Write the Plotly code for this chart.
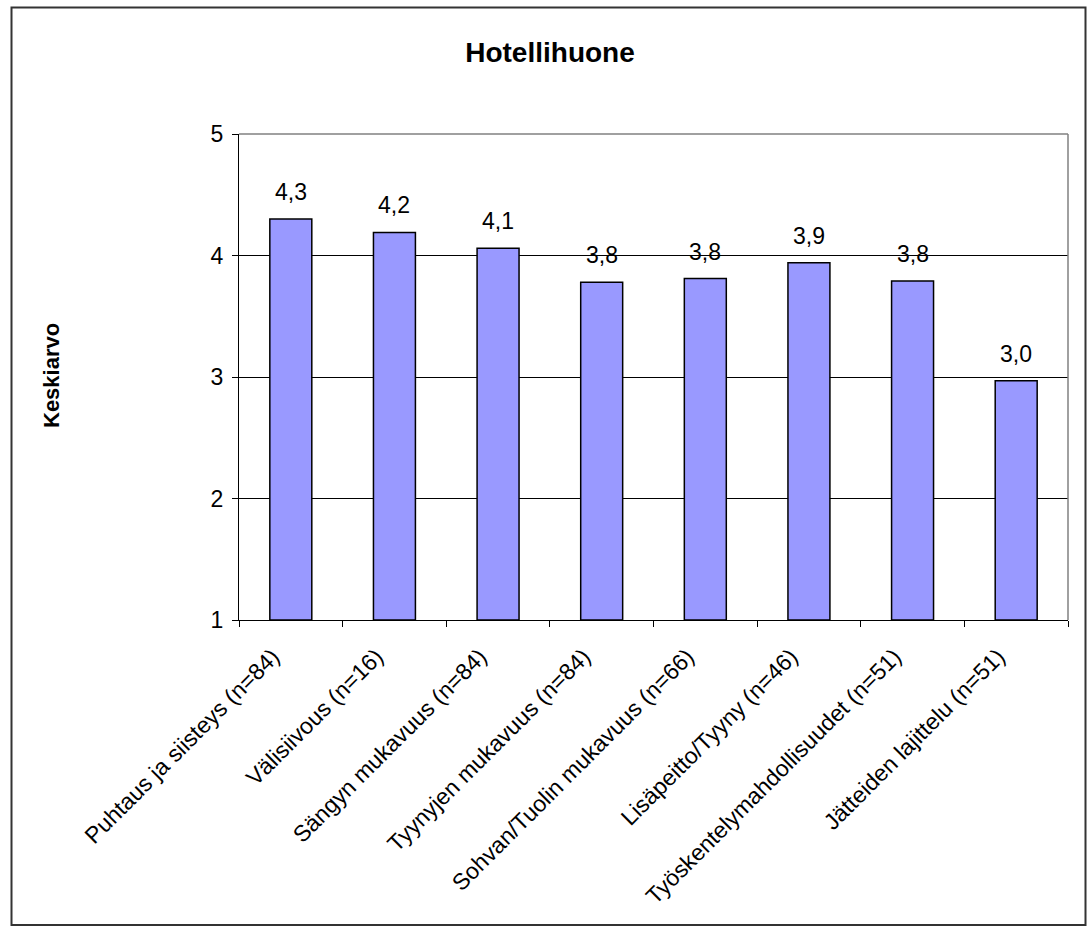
import plotly.graph_objects as go

categories = [
    "Puhtaus ja siisteys (n=84)",
    "Välisiivous (n=16)",
    "Sängyn mukavuus (n=84)",
    "Tyynyjen mukavuus (n=84)",
    "Sohvan/Tuolin mukavuus (n=66)",
    "Lisäpeitto/Tyyny (n=46)",
    "Työskentelymahdollisuudet (n=51)",
    "Jätteiden lajittelu (n=51)",
]
values = [4.30, 4.19, 4.06, 3.78, 3.81, 3.94, 3.79, 2.97]
y_ticks = [1, 2, 3, 4, 5]

FONT = "Liberation Sans, Arial, sans-serif"
W, H = 1090, 928
L, R, T, B = 239, 1068, 134, 620

def px_x(x):
    return (x - L) / (R - L)

def px_y(y):
    return (B - y) / (B - T)

fig = go.Figure(
    go.Bar(
        x=categories,
        y=[v - 1 for v in values],
        base=1,
        marker=dict(color="#9999ff", line=dict(color="black", width=1.5)),
        hoverinfo="skip",
    )
)

annotations = [
    dict(
        x=c, y=v, xref="x", yref="y",
        text=f"{v:.1f}".replace(".", ","),
        showarrow=False, xanchor="center", yanchor="bottom", yshift=12,
        font=dict(family=FONT, size=23, color="black"),
    )
    for c, v in zip(categories, values)
]
annotations.append(
    dict(
        text="<b>Keskiarvo</b>",
        x=px_x(51),
        y=px_y(376),
        xref="paper",
        yref="paper",
        textangle=-90,
        showarrow=False,
        xanchor="center",
        yanchor="middle",
        font=dict(family=FONT, size=22, color="black"),
    )
)

fig.update_layout(
    width=W,
    height=H,
    margin=dict(l=L, r=W - R, t=T, b=H - B, autoexpand=False),
    paper_bgcolor="white",
    plot_bgcolor="white",
    bargap=0.595,
    showlegend=False,
    font=dict(family=FONT, size=23, color="black"),
    title=dict(
        text="<b>Hotellihuone</b>",
        x=550 / W,
        xanchor="center",
        y=1 - 52 / H,
        yanchor="middle",
        font=dict(family=FONT, size=28, color="black"),
    ),
    xaxis=dict(
        type="category",
        showline=True,
        linecolor="black",
        linewidth=1,
        ticks="outside",
        tickson="boundaries",
        ticklen=6,
        tickcolor="black",
        tickangle=-45,
        ticklabelstandoff=13,
        ticklabelshift=-18,
        tickfont=dict(family=FONT, size=23, color="black"),
        showgrid=False,
    ),
    yaxis=dict(
        range=[1, 5],
        tickvals=y_ticks,
        showline=True,
        linecolor="black",
        linewidth=1,
        ticks="outside",
        ticklen=6,
        tickcolor="black",
        ticklabelstandoff=4,
        showgrid=True,
        gridcolor="black",
        gridwidth=1,
        zeroline=False,
        tickfont=dict(family=FONT, size=23, color="black"),
    ),
    annotations=annotations,
    shapes=[
        dict(type="line", xref="paper", yref="paper", x0=0, x1=1, y0=1, y1=1,
             line=dict(color="#808080", width=1.5), layer="above"),
        dict(type="line", xref="paper", yref="paper", x0=1, x1=1, y0=0, y1=1,
             line=dict(color="#808080", width=1.5), layer="above"),
        dict(type="rect", xref="paper", yref="paper",
             x0=px_x(11.5), x1=px_x(1085.5), y0=px_y(925), y1=px_y(7.5),
             line=dict(color="#333333", width=2), layer="above"),
    ],
)

fig.write_html("out.html")
